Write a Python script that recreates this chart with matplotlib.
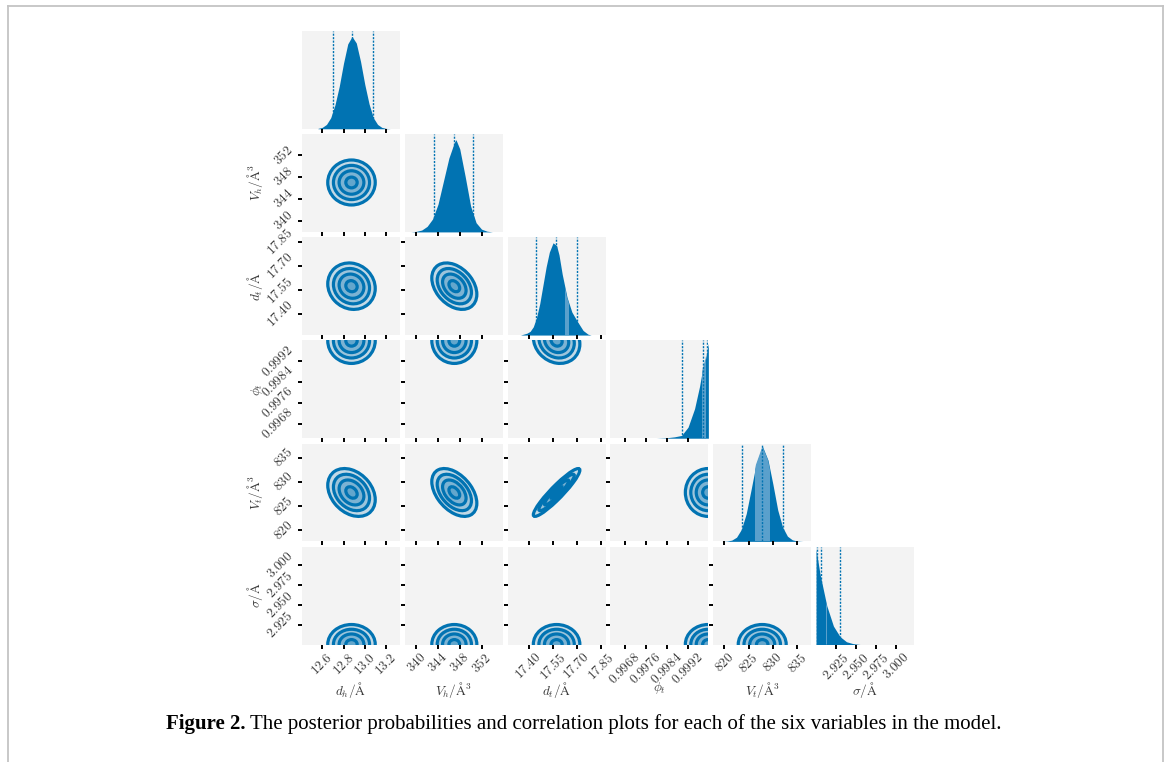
import numpy as np
import matplotlib
matplotlib.use('Agg')
import matplotlib.pyplot as plt
from matplotlib.patches import Ellipse
from matplotlib.transforms import Affine2D
from matplotlib.lines import Line2D

plt.rcParams['mathtext.fontset'] = 'cm'
plt.rcParams['font.family'] = ['Liberation Serif', 'DejaVu Serif']

# variables of the model
labels = [r'$d_h/\mathrm{\AA}$', r'$V_h/\mathrm{\AA}^3$', r'$d_t/\mathrm{\AA}$',
          r'$\phi_t$', r'$V_t/\mathrm{\AA}^3$', r'$\sigma/\mathrm{\AA}$']
limits = [(12.41, 13.33), (337.9, 355.9), (17.27, 17.88),
          (0.99624, 1.0), (817.7, 837.9), (2.9, 3.0225)]
ticks = [[12.6, 12.8, 13.0, 13.2], [340, 344, 348, 352], [17.40, 17.55, 17.70, 17.85],
         [0.9968, 0.9976, 0.9984, 0.9992], [820, 825, 830, 835], [2.925, 2.950, 2.975, 3.000]]
tick_text = [['12.6', '12.8', '13.0', '13.2'], ['340', '344', '348', '352'],
             ['17.40', '17.55', '17.70', '17.85'], ['0.9968', '0.9976', '0.9984', '0.9992'],
             ['820', '825', '830', '835'], ['2.925', '2.950', '2.975', '3.000']]

# 2.5 / 50 / 97.5 percent lines
quantiles = [[12.697, 12.88, 13.077], [343.3, 347.0, 350.46], [17.444, 17.571, 17.70],
             [0.99897, 0.99978, 0.99996], [823.6, 827.85, 832.1], [2.9009, 2.9059, 2.9296]]
bands = [None, None, (17.63, 17.655), (0.99975, 0.99992), (826.25, 829.4), (2.9125, 2.9133)]

# marginal posteriors (relative height)
dh_x = [12.56, 12.60, 12.64, 12.68, 12.72, 12.76, 12.80, 12.84, 12.88, 12.92, 12.96,
        13.00, 13.04, 13.08, 13.12, 13.16, 13.20, 13.24]
dh_h = [0.004, 0.015, 0.047, 0.12, 0.26, 0.46, 0.71, 0.92, 1.0, 0.93, 0.73, 0.48,
        0.27, 0.12, 0.047, 0.015, 0.004, 0.0]
vh_x = [339, 340, 341, 342, 343, 344, 345, 346, 347, 347.3, 348, 349, 350, 351, 352, 353, 354]
vh_h = [0.0, 0.006, 0.02, 0.06, 0.14, 0.30, 0.55, 0.80, 0.97, 1.0, 0.90, 0.60, 0.28,
        0.10, 0.03, 0.008, 0.0]
dt_x = [17.35, 17.39, 17.41, 17.43, 17.45, 17.47, 17.49, 17.51, 17.53, 17.553, 17.575,
        17.59, 17.61, 17.64, 17.67, 17.70, 17.74, 17.77, 17.79]
dt_h = [0.0, 0.02, 0.04, 0.09, 0.19, 0.34, 0.54, 0.74, 0.90, 1.0, 0.97, 0.87, 0.66,
        0.41, 0.25, 0.16, 0.05, 0.01, 0.0]
phi_x = [0.9980, 0.9984, 0.9987, 0.99897, 0.99922, 0.99947, 0.99966, 0.99978, 0.99989, 1.0]
phi_h = [0.0, 0.005, 0.015, 0.03, 0.12, 0.32, 0.56, 0.75, 0.86, 1.03]
vt_x = [819.5, 820.5, 821.5, 822.5, 823.5, 824.5, 825.5, 826.5, 827.85, 829, 830, 831,
        832, 833, 834, 835, 836.2]
vt_h = [0.0005, 0.003, 0.013, 0.045, 0.13, 0.30, 0.56, 0.83, 1.03, 0.88, 0.62, 0.34,
        0.155, 0.056, 0.017, 0.004, 0.0]
sig_x = [2.900, 2.905, 2.9134, 2.9217, 2.930, 2.938, 2.946, 2.955]
sig_h = [1.03, 0.76, 0.42, 0.20, 0.085, 0.03, 0.01, 0.0]
hist_x = [dh_x, vh_x, dt_x, phi_x, vt_x, sig_x]
hist_h = [dh_h, vh_h, dt_h, phi_h, vt_h, sig_h]

# joint posteriors: centre, spread and correlation of each pair
centers = [12.875, 347.0, 17.575, 0.99999, 827.8, 2.9002]
spreads = [0.097, 1.8, 0.063, 0.00038, 2.15, 0.0108]
pair_rho = [(0, 1, 0.0), (0, 2, -0.1), (1, 2, -0.35), (0, 3, 0.0), (1, 3, 0.0),
            (2, 3, -0.15), (0, 4, -0.3), (1, 4, -0.45), (2, 4, 0.93), (3, 4, 0.0),
            (0, 5, 0.0), (1, 5, 0.0), (2, 5, 0.0), (3, 5, 0.0), (4, 5, 0.0)]
levels = [2.3, 1.75, 1.2, 0.55]

blue = '#0173b2'
light = '#5aa0cc'
bg = '#f3f3f3'

fig = plt.figure(figsize=(11.67, 7.62), dpi=100)
axes = fig.subplots(6, 6)
fig.subplots_adjust(left=302/1167, right=914/1167, top=1-31/762, bottom=1-644.5/762,
                    wspace=0.05, hspace=0.055)

n = len(labels)
for i in range(n):
    for j in range(n):
        ax = axes[i, j]
        if j > i:
            ax.axis('off')
            continue
        ax.set_facecolor(bg)
        for s in ax.spines.values():
            s.set_visible(False)
        ax.set_xlim(limits[j])
        ax.set_xticks(ticks[j])
        ax.tick_params(direction='out', length=3, width=1.4, color='black',
                       labelsize=9.5, labelcolor='#3a3a3a', pad=1.5)
        if i == n - 1:
            ax.set_xticklabels(['$%s$' % t for t in tick_text[j]], rotation=45, ha='center')
            ax.set_xlabel(labels[j], fontsize=9.5, color='#3a3a3a')
            ax.xaxis.set_label_coords(0.5, -0.36)
        else:
            ax.set_xticklabels([])

        if i == j:
            poly = ax.fill_between(hist_x[j], hist_h[j], color=blue, lw=0)
            if bands[j] is not None:
                span = ax.axvspan(bands[j][0], bands[j][1], color=light, lw=0)
                span.set_clip_path(poly.get_paths()[0], ax.transData)
            for q in quantiles[j]:
                ax.axvline(q, color=blue, ls=(0, (1.5, 1)), lw=1.0)
            ax.set_ylim(0, 1.06)
            ax.set_yticks([])
            continue

        ax.set_ylim(limits[i])
        ax.set_yticks(ticks[i])
        if j == 0:
            ax.set_yticklabels(['$%s$' % t for t in tick_text[i]], rotation=45,
                               ha='right', va='center')
            ax.set_ylabel(labels[i], fontsize=9.5, color='#3a3a3a')
            ax.yaxis.set_label_coords(-0.38, 0.5)
        else:
            ax.set_yticklabels([])

        rho = [r for a, b, r in pair_rho if a == j and b == i][0]
        sx, sy = spreads[j], spreads[i]
        m = Affine2D(np.array([[sx, 0, centers[j]],
                               [rho * sy, np.sqrt(1 - rho**2) * sy, centers[i]],
                               [0, 0, 1]]))
        for r in levels:
            ax.add_patch(Ellipse((0, 0), 2 * r, 2 * r, transform=m + ax.transData,
                                 facecolor=(0.004, 0.45, 0.7, 0.2), edgecolor=blue, lw=2.3))

# frame of the page
for xs, ys in [([8, 8], [5.5, 762]), ([8, 1163], [5.5, 5.5]), ([1163, 1163], [5.5, 762])]:
    fig.add_artist(Line2D([x/1167 for x in xs], [1 - y/762 for y in ys],
                          color='#c4c4c4', lw=1.3, transform=fig.transFigure))

# caption
cap_y = 1 - 724/762
r = fig.canvas.get_renderer()
t1 = fig.text(0, cap_y, 'Figure 2.', weight='bold', fontsize=15, va='center')
t2 = fig.text(0, cap_y, 'The posterior probabilities and correlation plots for each of '
              'the six variables in the model.', fontsize=15, va='center')
w1 = t1.get_window_extent(r).width
w2 = t2.get_window_extent(r).width
x0 = (1167 - w1 - w2 - 4) / 2
t1.set_x(x0 / 1167)
t2.set_x((x0 + w1 + 4) / 1167)

fig.savefig('out.png', dpi=100)
